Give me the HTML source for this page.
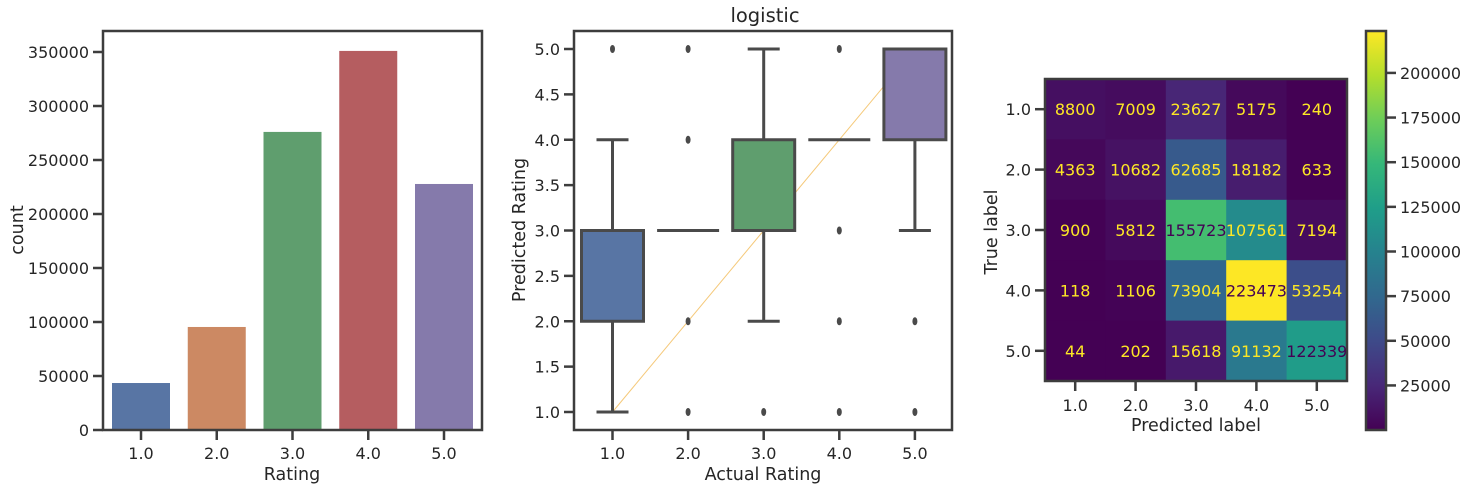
<!DOCTYPE html>
<html><head><meta charset="utf-8"><style>
body{margin:0;background:#fff}
svg text{font-family:"DejaVu Sans","Liberation Sans",sans-serif;fill:#262626}
</style></head><body>
<svg id="s" width="1467" height="490" xmlns="http://www.w3.org/2000/svg"></svg>
<script>
const NS="http://www.w3.org/2000/svg";
const svg=document.getElementById('s');
// ---- data ----
const cats=["1.0","2.0","3.0","4.0","5.0"];
const counts=[43500,95400,276000,351000,227800];
const barColors=["#5875a4","#cc8963","#5f9e6e","#b55d60","#857aab"];
const countTicks=[0,50000,100000,150000,200000,250000,300000,350000];
// boxplot stats: [whiskerLow, q1, q3, whiskerHigh]
const boxStats=[[1,2,3,4],[3,3,3,3],[2,3,4,5],[4,4,4,4],[3,4,5,5]];
const outliers=[[5],[5,4,2,1],[1],[5,3,2,1],[2,1]];
const predTicks=[1.0,1.5,2.0,2.5,3.0,3.5,4.0,4.5,5.0];
const cm=[[8800,7009,23627,5175,240],[4363,10682,62685,18182,633],[900,5812,155723,107561,7194],[118,1106,73904,223473,53254],[44,202,15618,91132,122339]];
const cbTicks=[25000,50000,75000,100000,125000,150000,175000,200000];

function el(t,a,p){const e=document.createElementNS(NS,t);for(const k in a)e.setAttribute(k,a[k]);(p||svg).appendChild(e);return e;}
function txt(s,a,p){const e=el('text',a,p);e.textContent=s;return e;}
const dark="#3d3d3d";

// ---- chart 1 ----
const g1=el('g',{});


const x1=i=>141+i*75.75, y1=v=>430-v*(378/350000);
counts.forEach((v,i)=>{const r=el('rect',{x:x1(i)-29,y:y1(v),width:58,height:430-y1(v),fill:barColors[i]},g1);

});
countTicks.forEach(v=>{el('line',{x1:93,x2:103,y1:y1(v),y2:y1(v),stroke:dark,'stroke-width':2.5},g1);
const t=txt(String(v),{x:89,y:y1(v)+6,'text-anchor':'end','font-size':16},g1);

});
cats.forEach((c,i)=>{el('line',{x1:x1(i),x2:x1(i),y1:430,y2:440,stroke:dark,'stroke-width':2.5},g1);
const t=txt(c,{x:x1(i),y:459,'text-anchor':'middle','font-size':16},g1);

});
el('rect',{x:103,y:31,width:379,height:399,fill:'none',stroke:dark,'stroke-width':2.5},g1);
let t=txt('Rating',{x:292,y:480,'text-anchor':'middle','font-size':17.5},g1);


t=txt('count',{x:0,y:0,'text-anchor':'middle','font-size':17.5,transform:'translate(23,230) rotate(-90)'},g1);



// ---- chart 2 ----
const g2=el('g',{});


const x2=i=>612.5+i*75.6, y2=v=>412-(v-1)*90.75;
el('line',{x1:x2(0),y1:y2(1),x2:x2(4),y2:y2(5),stroke:'#f5c97a','stroke-width':1},g2);
boxStats.forEach((s,i)=>{const cx=x2(i);
const b=el('g',{},g2);


const st={stroke:'#4a4a4a','stroke-width':3};
if(s[1]!==s[2]){
el('line',Object.assign({x1:cx,x2:cx,y1:y2(s[0]),y2:y2(s[1])},st),b);
el('line',Object.assign({x1:cx,x2:cx,y1:y2(s[2]),y2:y2(s[3])},st),b);
el('line',Object.assign({x1:cx-16,x2:cx+16,y1:y2(s[0]),y2:y2(s[0])},st),b);
el('line',Object.assign({x1:cx-16,x2:cx+16,y1:y2(s[3]),y2:y2(s[3])},st),b);
el('rect',Object.assign({x:cx-31,y:y2(s[2]),width:62,height:y2(s[1])-y2(s[2]),fill:barColors[i]},st),b);
}else{el('line',Object.assign({x1:cx-31,x2:cx+31,y1:y2(s[1]),y2:y2(s[1])},st),b);}
outliers[i].forEach(o=>{el('ellipse',{cx:cx,cy:y2(o),rx:2.5,ry:4,fill:'#4a4a4a'},b);});
});
predTicks.forEach(v=>{el('line',{x1:564,x2:574,y1:y2(v),y2:y2(v),stroke:dark,'stroke-width':2.5},g2);
const t=txt(v.toFixed(1),{x:560,y:y2(v)+6,'text-anchor':'end','font-size':16},g2);

});
cats.forEach((c,i)=>{el('line',{x1:x2(i),x2:x2(i),y1:430,y2:440,stroke:dark,'stroke-width':2.5},g2);
const t=txt(c,{x:x2(i),y:459,'text-anchor':'middle','font-size':16},g2);

});
el('rect',{x:574,y:31,width:378,height:399,fill:'none',stroke:dark,'stroke-width':2.5},g2);
t=txt('logistic',{x:765,y:22,'text-anchor':'middle','font-size':19.5},g2);


t=txt('Actual Rating',{x:763,y:480,'text-anchor':'middle','font-size':17.5},g2);


t=txt('Predicted Rating',{x:0,y:0,'text-anchor':'middle','font-size':17.5,transform:'translate(525,230) rotate(-90)'},g2);



// ---- chart 3 ----
const vir=[[68,1,84],[72,40,120],[62,74,137],[49,104,142],[38,130,142],[31,158,137],[53,183,121],[109,205,89],[180,222,44],[253,231,37]];
function viridis(f){f=Math.max(0,Math.min(1,f))*9;const i=Math.min(8,Math.floor(f)),r=f-i;const a=vir[i],b=vir[i+1];return 'rgb('+a.map((v,k)=>Math.round(v+(b[k]-v)*r)).join(',')+')';}
const flat=cm.flat(),vmin=Math.min(...flat),vmax=Math.max(...flat),thr=(vmin+vmax)/2;
const g3=el('g',{});


const cw=60.4,hx=1045,hy=79;
cm.forEach((row,r)=>row.forEach((v,c)=>{
const rc=el('rect',{x:hx+c*cw,y:hy+r*cw,width:cw+0.5,height:cw+0.5,fill:viridis((v-vmin)/(vmax-vmin))},g3);


const tt=txt(String(v),{x:hx+(c+0.5)*cw,y:hy+(r+0.5)*cw+6,'text-anchor':'middle','font-size':16},g3);
tt.style.fill=v<thr?'#fde725':'#440154';


}));
el('rect',{x:hx,y:hy,width:cw*5,height:cw*5,fill:'none',stroke:dark,'stroke-width':2.5},g3);
cats.forEach((c,i)=>{const p=hx+(i+0.5)*cw;
el('line',{x1:p,x2:p,y1:hy+cw*5,y2:hy+cw*5+10,stroke:dark,'stroke-width':2.5},g3);
let a=txt(c,{x:p,y:411,'text-anchor':'middle','font-size':16},g3);


const q=hy+(i+0.5)*cw;
el('line',{x1:hx-10,x2:hx,y1:q,y2:q,stroke:dark,'stroke-width':2.5},g3);
a=txt(c,{x:1031,y:q+6,'text-anchor':'end','font-size':16},g3);

});
t=txt('Predicted label',{x:1196,y:431,'text-anchor':'middle','font-size':17.5},g3);


t=txt('True label',{x:0,y:0,'text-anchor':'middle','font-size':17.5,transform:'translate(997,232) rotate(-90)'},g3);


// colorbar
const cb=el('g',{});


const defs=el('defs',{},cb);const lg=el('linearGradient',{id:'vg',x1:0,y1:1,x2:0,y2:0},defs);
vir.forEach((c,i)=>el('stop',{offset:i/9,'stop-color':'rgb('+c.join(',')+')'},lg));
const cy=v=>430-(v-vmin)/(vmax-vmin)*399;
el('rect',{x:1366,y:31,width:20,height:399,fill:'url(#vg)',stroke:dark,'stroke-width':2.5},cb);
cbTicks.forEach(v=>{el('line',{x1:1386,x2:1396,y1:cy(v),y2:cy(v),stroke:dark,'stroke-width':2.5},cb);
const a=txt(String(v),{x:1400,y:cy(v)+6,'font-size':16},cb);

});
</script>
</body></html>
